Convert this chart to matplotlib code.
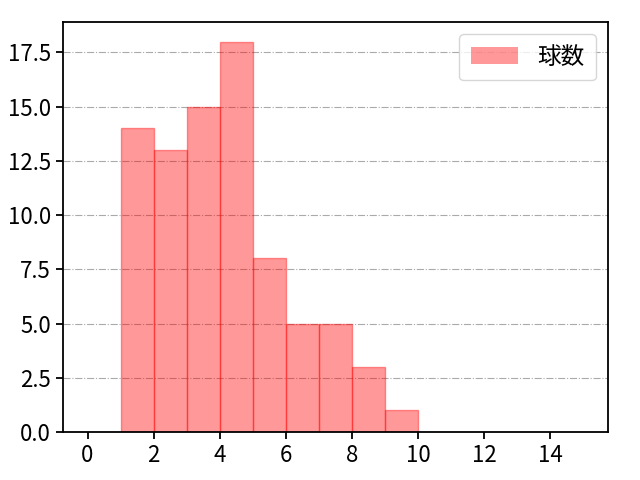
import numpy as np
import matplotlib
matplotlib.use("Agg")
import matplotlib.pyplot as plt

plt.rcParams['font.family'] = ['Noto Sans CJK JP', 'DejaVu Sans']

# histogram data: bin edges 0..15, counts per bin
bin_edges = list(range(0, 16))
bin_counts = [0, 14, 13, 15, 18, 8, 5, 5, 3, 1, 0, 0, 0, 0, 0]
label = "球数"


def main():
    fig = plt.figure(figsize=(6.4, 4.8), dpi=100)
    ax = fig.add_axes([0.098, 0.1, 0.852, 0.854])

    _, _, patches = ax.hist(bin_edges[:-1], bins=bin_edges, weights=bin_counts,
                            color="red", alpha=0.4, edgecolor="red",
                            linewidth=1, label=label)
    # hide the empty bins' outlines
    for p, c in zip(patches, bin_counts):
        if c == 0:
            p.set_linewidth(0)

    ax.set_xticks(range(0, 15, 2))
    ax.grid(axis="y", color="#aaaaaa", linestyle="-.", linewidth=0.8)
    ax.set_axisbelow(True)
    for s in ax.spines.values():
        s.set_linewidth(1.3)
    ax.tick_params(labelsize=16, width=1.3, length=5)
    ax.legend(loc="upper right", fontsize=17, borderpad=0.5)

    fig.savefig("out.png", dpi=100)


if __name__ == "__main__":
    main()
